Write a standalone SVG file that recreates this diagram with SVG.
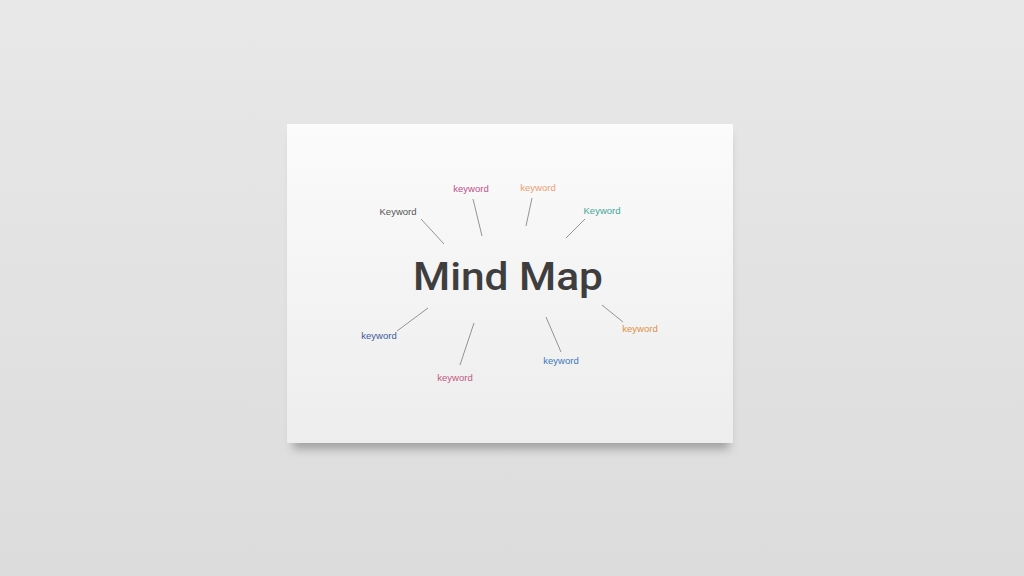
<svg xmlns="http://www.w3.org/2000/svg" width="1024" height="576" viewBox="0 0 1024 576">
<defs>
<linearGradient id="bg" x1="0" y1="0" x2="0" y2="1"><stop offset="0" stop-color="#e8e8e8"/><stop offset="1" stop-color="#dcdcdc"/></linearGradient>
<linearGradient id="card" x1="0" y1="0" x2="0" y2="1"><stop offset="0" stop-color="#fbfbfb"/><stop offset="1" stop-color="#ededed"/></linearGradient>
<filter id="sh" x="-10%" y="-10%" width="120%" height="130%"><feGaussianBlur stdDeviation="5"/></filter>
<style>
.kw{font-family:"Liberation Sans",Arial,sans-serif;font-size:9.5px;text-anchor:middle}
.ln{stroke:#888;stroke-width:0.9;fill:none}
.title{font-family:Roboto,"Liberation Sans",Arial,sans-serif;font-size:39px;font-weight:500;fill:#3e3e3e;text-anchor:middle}
</style>
</defs>
<rect width="1024" height="576" fill="url(#bg)"/>
<rect x="293" y="134" width="436" height="315" fill="#555" opacity="0.45" filter="url(#sh)"/>
<rect x="287" y="124" width="446" height="319" fill="url(#card)"/>
<g id="center"><text class="title" x="508" y="290" textLength="190" lengthAdjust="spacingAndGlyphs">Mind Map</text></g>
<g id="connectors">
<line class="ln" x1="421" y1="219" x2="444" y2="244"/>
<line class="ln" x1="473" y1="199" x2="482" y2="236"/>
<line class="ln" x1="532" y1="198" x2="526" y2="226"/>
<line class="ln" x1="585" y1="219" x2="566" y2="238"/>
<line class="ln" x1="428" y1="308" x2="397" y2="331"/>
<line class="ln" x1="474" y1="323" x2="460" y2="365"/>
<line class="ln" x1="546" y1="317" x2="561" y2="352"/>
<line class="ln" x1="602" y1="305" x2="623" y2="322"/>
</g>
<g id="n1"><text class="kw" x="398" y="215" fill="#555">Keyword</text></g>
<g id="n2"><text class="kw" x="471" y="192" fill="#c0508a">keyword</text></g>
<g id="n3"><text class="kw" x="538" y="191" fill="#e8a070">keyword</text></g>
<g id="n4"><text class="kw" x="602" y="214" fill="#40a898">Keyword</text></g>
<g id="n5"><text class="kw" x="379" y="339" fill="#3a5a9a">keyword</text></g>
<g id="n6"><text class="kw" x="455" y="381" fill="#c05a80">keyword</text></g>
<g id="n7"><text class="kw" x="561" y="364" fill="#3a78b8">keyword</text></g>
<g id="n8"><text class="kw" x="640" y="332" fill="#e09040">keyword</text></g>
</svg>
